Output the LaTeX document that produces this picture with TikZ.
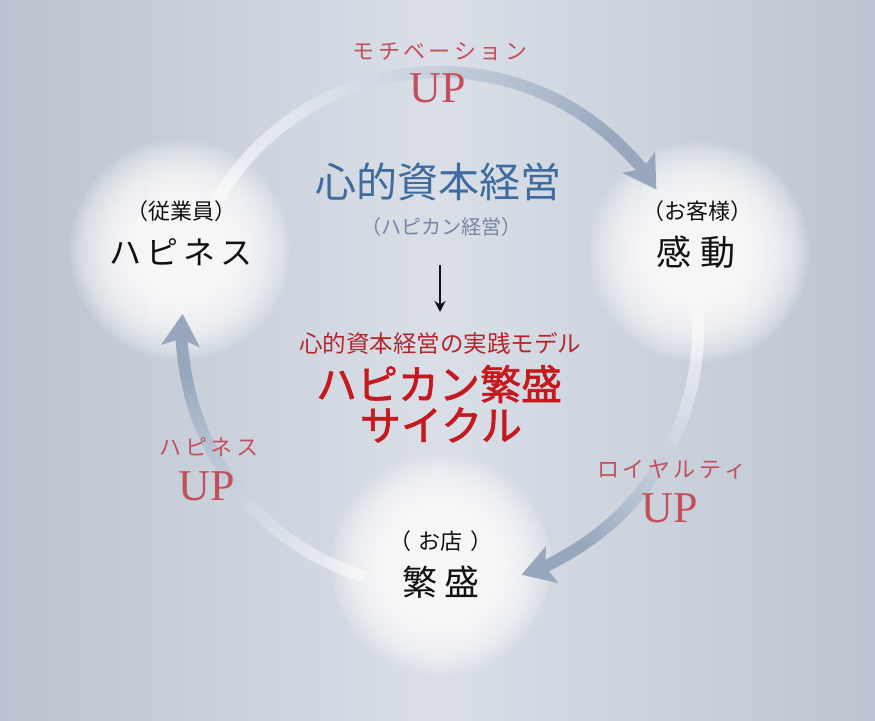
\documentclass[tikz,border=0pt]{standalone}
\usepackage{fontspec}
\setmainfont{Liberation Serif}
\newfontfamily\jp{Noto Sans CJK JP}
\newfontfamily\jpb[FakeBold=1.6]{Noto Sans CJK JP}
\usetikzlibrary{arrows.meta}
\definecolor{bgL}{HTML}{BAC3CF}
\definecolor{bgM}{HTML}{DADFE7}
\definecolor{bgR}{HTML}{BCC5D1}
\definecolor{arrowc}{HTML}{97A8BE}
\definecolor{startc}{HTML}{EAEDF2}
\definecolor{rose}{HTML}{C2505C}
\definecolor{titleblue}{HTML}{3F6B9E}
\definecolor{subgrey}{HTML}{7585A3}
\definecolor{modelred}{HTML}{B3262B}
\definecolor{deepred}{HTML}{C41A1F}
\definecolor{ink}{HTML}{111111}
\tikzset{
  txt/.style={inner sep=0pt, text=ink},
  lbl/.style={inner sep=0pt, text=rose, font=\jp\fontsize{22}{26}\selectfont},
  upt/.style={inner sep=0pt, text=rose, font=\fontsize{44}{44}\selectfont},
  arcline/.style={line width=12pt, line cap=butt},
}
\newcommand\g{\kern3.5pt}
% gradient shaft of a cycle arc
\newcommand\fadeshaft[2]{%
  \foreach \i in {0,...,39} {
    \pgfmathsetmacro\aa{#1+(#2-#1)*\i/40}
    \pgfmathsetmacro\bb{#1+(#2-#1)*(\i+1.3)/40}
    \pgfmathtruncatemacro\pp{100*(\i/39)^1.5}
    \draw[arcline, draw=arrowc!\pp!startc]
      ([shift={(\aa:258)}]cc) arc[start angle=\aa, end angle=\bb, radius=258];
  }
}
% solid end with arrow tip
\newcommand\tiparc[2]{%
  \draw[arcline, draw=arrowc, -{Stealth[length=32pt,width=38pt,inset=7pt]}]
    ([shift={(#1:258)}]cc) arc[start angle=#1, end angle=#2, radius=258];
}
\begin{document}
\begin{tikzpicture}[x=1pt,y=1pt]
\useasboundingbox (0,0) rectangle (875,720);
\shade[left color=bgL, right color=bgR, middle color=bgM] (0,0) rectangle (875,720);

% centres
\coordinate (cc) at (440,390);
\coordinate (gL) at (180,470);
\coordinate (gR) at (700,468);
\coordinate (gB) at (441,155);

% cycle arc shafts
\fadeshaft{150}{47}
\fadeshaft{5}{-57}
\fadeshaft{253}{190}

% glows
\foreach \P in {gL,gR,gB} {
  \foreach \r in {110,107,...,20} {
    \fill[white, opacity=0.1] (\P) circle[radius=\r];
  }
}

% arrow tips
\tiparc{47.5}{33}
\tiparc{-56.5}{-71.6}
\tiparc{190.5}{176.4}

% top label
\node[lbl] (motL) at (440,668) {モ\g チ\g ベ\g ー\g シ\g ョ\g ン};
\node[upt] (motU) at (438,632) {UP};

% centre texts
\node[inner sep=0pt, text=titleblue, font=\jp\fontsize{41}{41}\selectfont] (title) at (438,538) {心的資本経営};
\node[inner sep=0pt, text=subgrey, font=\jp\fontsize{20}{20}\selectfont] (sub) at (441,493) {（ハピカン経営）};
\coordinate (arT) at (440,455);
\coordinate (arB) at (440,408);
\draw[line width=2.2pt, ink, -{Stealth[length=11pt,width=11pt]}] (arT) -- (arB);
\node[inner sep=0pt, text=modelred, font=\jp\fontsize{23.5}{24}\selectfont] (model) at (440,377) {心的資本経営の実践モデル};
\node[inner sep=0pt, text=deepred, font=\jpb\fontsize{41}{41}\selectfont] (hanjo) at (439,336) {ハピカン繁盛};
\node[inner sep=0pt, text=deepred, font=\jpb\fontsize{41}{41}\selectfont] (cycle) at (441,295) {サイクル};

% left node
\node[txt, font=\jp\fontsize{22}{22}\selectfont] (L1) at (181,509) {（従業員）};
\node[txt, font=\jp\fontsize{32}{32}\selectfont] (L2) at (181,468) {ハ\kern5ptピ\kern5ptネ\kern5ptス};

% right node
\node[txt, font=\jp\fontsize{22}{22}\selectfont] (R1) at (697,509) {（お客様）};
\node[txt, font=\jp\fontsize{35}{35}\selectfont] (R2) at (696,468) {感\kern10pt動};

% bottom node
\node[txt, font=\jp\fontsize{22}{22}\selectfont] (B1) at (441,179) {（\kern8ptお店\kern8pt）};
\node[txt, font=\jp\fontsize{35}{35}\selectfont] (B2) at (441,138) {繁\kern8pt盛};

% side labels
\node[lbl] (hapL) at (209,273) {ハ\g ピ\g ネ\g ス};
\node[upt] (hapU) at (207,234) {UP};
\node[lbl] (loyL) at (672,250) {ロ\g イ\g ヤ\g ル\g テ\g ィ};
\node[upt] (loyU) at (670,212) {UP};
\end{tikzpicture}
\end{document}
